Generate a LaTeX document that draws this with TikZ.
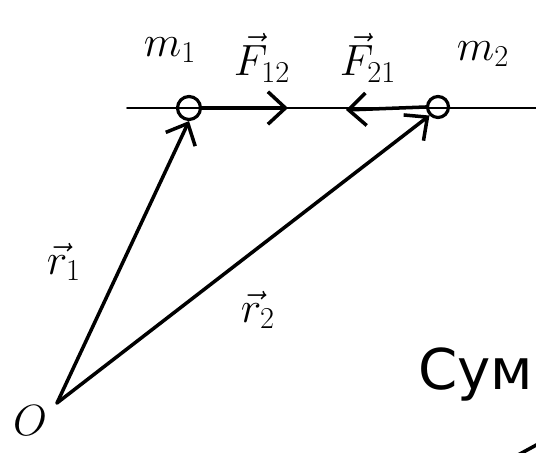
\documentclass[tikz,border=0pt]{standalone}
\usepackage{fontspec}
\newfontfamily\cyrfont{DejaVu Sans}
\usetikzlibrary{arrows.meta}
\tikzset{
  sk-line/.style={line width=2pt, line cap=round, draw=black},
  sk-vec/.style={sk-line, -{Straight Barb[length=3.5mm, width=6.5mm]}},
  sk-mass/.style={circle, draw=black, line width=1.8pt, inner sep=0pt,
    minimum size=4.6mm},
  sk-label/.style={font=\fontsize{26}{30}\selectfont, inner sep=0pt},
  sk-text/.style={font=\fontsize{32}{36}\selectfont\cyrfont, inner sep=0pt}
}
\begin{document}
\begin{tikzpicture}[x=0.2mm, y=-0.2mm]
\useasboundingbox (0,0) rectangle (536,453);
\clip (0,0) rectangle (536,453);

% Axis line
\coordinate (axisL) at (127,108);
\coordinate (axisR) at (540,108);
\draw[sk-line, line width=1.1pt] (axisL) -- (axisR);

% Masses
\node[sk-mass] (m1) at (189,108) {};
\node[sk-mass, minimum size=4.2mm] (m2) at (438,107) {};
\node[sk-label] (m1lab) at (170,50) {$m_1$};
\node[sk-label] (m2lab) at (483,54) {$m_2$};

% Origin
\coordinate (O) at (57,403);
\node[sk-label, font=\fontsize{32}{36}\selectfont] (Olab) at (30,421) {$O$};

% Forces
\coordinate (F12tip) at (288,108);
\coordinate (F21tip) at (346,110);
\draw[sk-vec] (m1.east) -- (F12tip);
\draw[sk-vec] (m2.west) -- (F21tip);
\node[sk-label] (F12lab) at (262,58) {$\vec{F}_{12}$};
\node[sk-label] (F21lab) at (368,58) {$\vec{F}_{21}$};

% Radius vectors
\draw[sk-vec] (O) -- (m1.south);
\draw[sk-vec] (O) -- (m2.south west);
\node[sk-label] (r1lab) at (64,262) {$\vec{r}_1$};
\node[sk-label] (r2lab) at (258,310) {$\vec{r}_2$};

% Text
\node[sk-text, anchor=base west] (summ) at (418,390) {Сумма};
\coordinate (strokeA) at (518,455);
\coordinate (strokeB) at (540,443);
\draw[sk-line] (strokeA) -- (strokeB);
\end{tikzpicture}
\end{document}
